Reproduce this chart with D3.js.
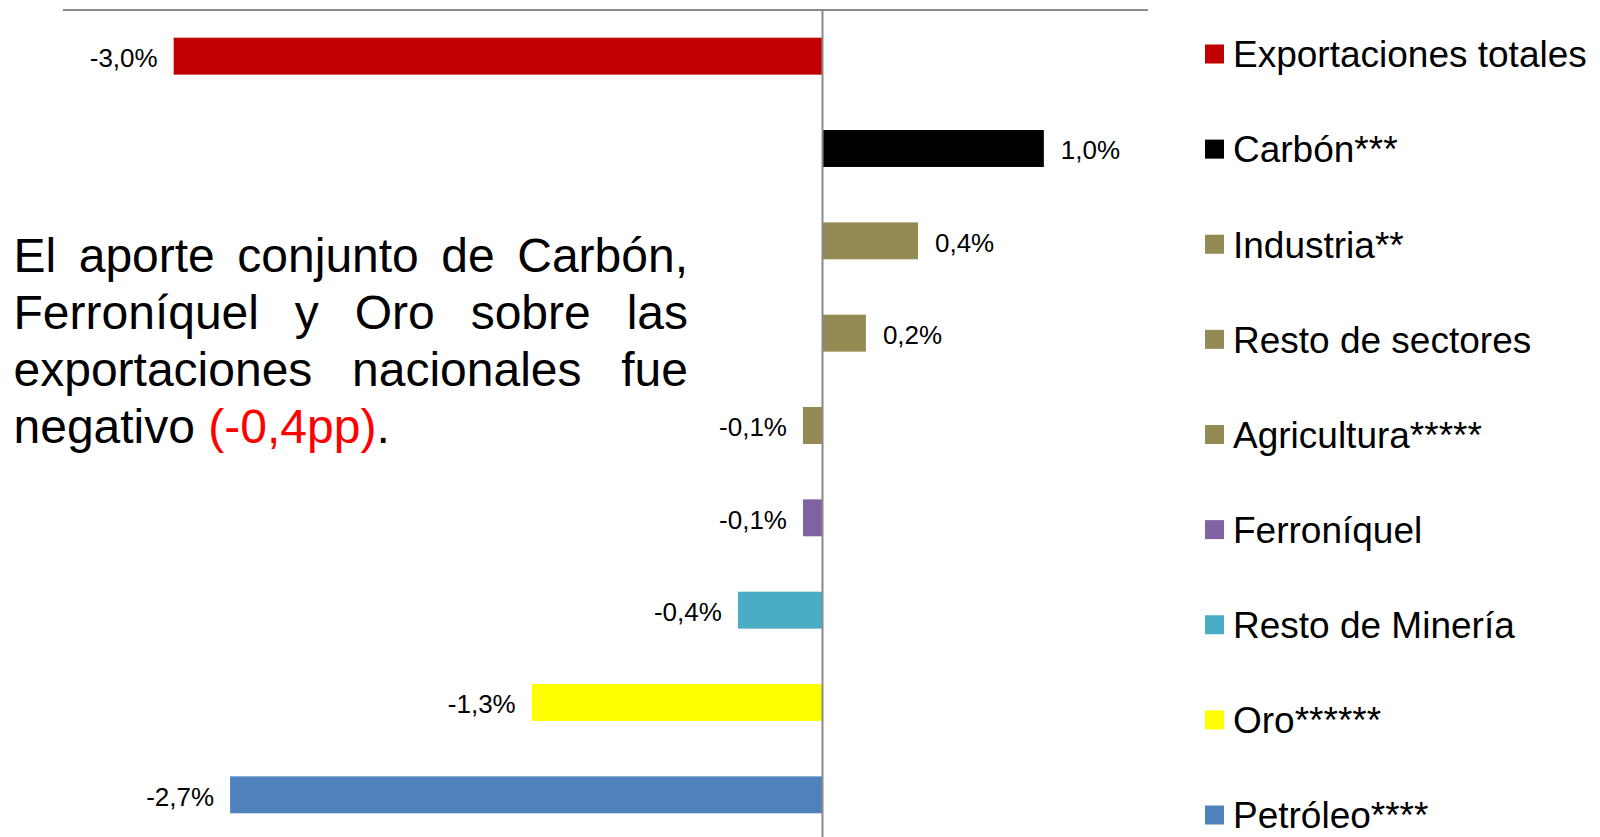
<!DOCTYPE html>
<html>
<head>
<meta charset="utf-8">
<script src="https://cdn.jsdelivr.net/npm/d3@7"></script>
<style>
    body { margin: 0; background: #fff; }
    svg { display: block; font-family: "Liberation Sans", Arial, sans-serif; }
    .axis-line { stroke: #898989; stroke-width: 2; }
    .bar-label { font-size: 26px; fill: #000; }
    .legend-label { font-size: 37px; fill: #000; }
    .note { font-size: 48px; fill: #000; }
</style>
</head>
<body>
<svg width="1600" height="837"></svg>
<script>
var categories = ["Exportaciones totales", "Carbón***", "Industria**", "Resto de sectores", "Agricultura*****",
    "Ferroníquel", "Resto de Minería", "Oro******", "Petróleo****"];
var values = [-2.99, 1.02, 0.44, 0.20, -0.09, -0.09, -0.39, -1.34, -2.73];
var colors = ["#C00000", "#000000", "#948A54", "#948A54", "#948A54", "#8064A2", "#4BACC6", "#FFFF00", "#4F81BD"];
var value_domain = [-3.5, 1.5];

var note_lines = ["El aporte conjunto de Carbón,", "Ferroníquel y Oro sobre las", "exportaciones nacionales fue"];
var note_last = ["negativo ", "(-0,4pp)", "."];

var svg = d3.select("svg"),
    svg_width = +svg.attr("width"),
    svg_height = +svg.attr("height");

var x = d3.scaleLinear().domain(value_domain).range([63, 1148]);
var y = d3.scaleBand().domain(categories).range([10, 841]).paddingInner(0.6).paddingOuter(0.3);

var locale = d3.formatLocale({decimal: ",", thousands: ".", grouping: [3], currency: ["", ""], minus: "-"});
var fmt = locale.format(".1f");

var data = categories.map(function(c, i) { return {label: c, value: values[i], color: colors[i]}; });

// Bars
svg.append("g").selectAll("rect")
    .data(data)
    .enter().append("rect")
    .attr("x", function(d) { return x(Math.min(0, d.value)); })
    .attr("y", function(d) { return y(d.label); })
    .attr("width", function(d) { return Math.abs(x(d.value) - x(0)); })
    .attr("height", y.bandwidth())
    .attr("fill", function(d) { return d.color; });

// Axis lines (top value axis without ticks, vertical zero line)
svg.append("line")
    .attr("class", "axis-line")
    .attr("x1", x.range()[0])
    .attr("x2", x.range()[1])
    .attr("y1", y.range()[0])
    .attr("y2", y.range()[0]);

svg.append("line")
    .attr("class", "axis-line")
    .attr("x1", x(0))
    .attr("x2", x(0))
    .attr("y1", y.range()[0])
    .attr("y2", svg_height);

// Value labels
svg.append("g").selectAll("text")
    .data(data)
    .enter().append("text")
    .attr("class", "bar-label")
    .attr("x", function(d) { return d.value < 0 ? x(d.value) - 16 : x(d.value) + 17; })
    .attr("y", function(d) { return y(d.label) + y.bandwidth() / 2; })
    .attr("dy", "0.42em")
    .attr("text-anchor", function(d) { return d.value < 0 ? "end" : "start"; })
    .text(function(d) { return fmt(d.value) + "%"; });

// Legend
var legend_y = d3.scalePoint().domain(categories).range([54, 815]);
var legend = svg.append("g").selectAll("g")
    .data(data)
    .enter().append("g")
    .attr("transform", function(d) { return "translate(1205," + legend_y(d.label) + ")"; });

legend.append("rect")
    .attr("x", 0)
    .attr("y", -9.5)
    .attr("width", 19)
    .attr("height", 19)
    .attr("fill", function(d) { return d.color; });

legend.append("text")
    .attr("class", "legend-label")
    .attr("x", 28)
    .attr("y", 0)
    .attr("dy", "0.36em")
    .text(function(d) { return d.label; });

// Justified note text
var note_left = 13.5, note_right = 688, note_top = 272, note_step = 57;
note_lines.forEach(function(line, i) {
    var t = svg.append("text")
        .attr("class", "note")
        .attr("x", note_left)
        .attr("y", note_top + i * note_step)
        .text(line);
    var natural = t.node().getComputedTextLength();
    var spaces = line.split(" ").length - 1;
    t.attr("word-spacing", (note_right - note_left - natural) / spaces);
});

var last = svg.append("text")
    .attr("class", "note")
    .attr("x", note_left)
    .attr("y", note_top + note_lines.length * note_step);
last.append("tspan").text(note_last[0]);
last.append("tspan").attr("fill", "#FF0000").text(note_last[1]);
last.append("tspan").text(note_last[2]);
</script>
</body>
</html>
